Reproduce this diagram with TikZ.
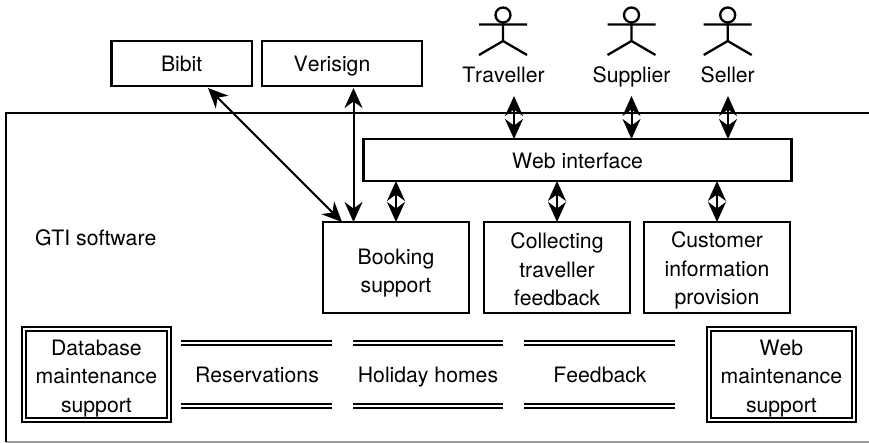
\documentclass[tikz,border=0pt]{standalone}
\usepackage{fontspec}
\setmainfont[Kerning=Off]{TeX Gyre Heros}
\usetikzlibrary{arrows.meta,calc}
\tikzset{
  lbl/.style={font=\fontsize{21.2}{28.5}\selectfont,align=center,inner sep=0pt,outer sep=0pt},
  box/.style={draw,line width=2.3pt,inner sep=0pt,outer sep=0pt},
  dbox/.style={draw,line width=1.9pt,double=white,double distance=2.2pt,minimum width=145.4pt,minimum height=91.3pt,inner sep=0pt,outer sep=0pt},
  rule/.style={line width=1.9pt,double=white,double distance=2.2pt},
  stick/.style={line width=2.3pt},
  link/.style={line width=2pt,{Stealth[length=20pt,width=18pt,inset=6.5pt]}-{Stealth[length=20pt,width=18pt,inset=6.5pt]}},
  actor/.pic={
    \draw[stick] (0,15) circle (7.5);
    \draw[stick] (-24,24.5) -- (24,24.5) (0,22.5) -- (0,41) (-24,55) -- (0,41) -- (24,55);
  }
}
\begin{document}
\begin{tikzpicture}[x=1pt,y=-1pt]
\useasboundingbox (0,0) rectangle (869,442);
% system boundary
\coordinate (bl) at (6,441.5);
\coordinate (tl) at (6,113);
\coordinate (tr) at (869,113);
\coordinate (br) at (869,441.5);
\draw[line width=2pt,black!40] (bl) -- (br);
\draw[line width=2.3pt] (bl) -- (tl) -- (tr);
% external boxes
\node[box,minimum width=140.5pt,minimum height=45pt] (bibit) at (181.7,63.5) {};
\node[box,minimum width=160.5pt,minimum height=45pt] (verisign) at (342,63.5) {};
\node[lbl,anchor=base] (bibitt) at (181.7,71.7) {Bibit};
\node[lbl,anchor=base] (verisignt) at (332,71.7) {Verisign};
% actors
\pic at (503,0) {actor};
\pic at (631.5,0) {actor};
\pic at (727.7,0) {actor};
\node[lbl,anchor=base] (traveller) at (503.5,82) {Traveller};
\node[lbl,anchor=base] (supplier) at (631.5,82) {Supplier};
\node[lbl,anchor=base] (seller) at (727.7,82) {Seller};
% interior boxes
\node[box,minimum width=428pt,minimum height=42pt] (web) at (577.5,160) {};
\node[lbl,anchor=base] (webt) at (577.5,168.3) {Web interface};
\node[lbl,anchor=base west] (gti) at (35,245) {GTI software};
\node[box,minimum width=145.5pt,minimum height=91pt] (booking) at (396,267.5) {};
\node[box,minimum width=145.5pt,minimum height=91pt] (collect) at (557,267.5) {};
\node[box,minimum width=145.5pt,minimum height=91pt] (customer) at (717,267.5) {};
\node[lbl] (bookingt) at (396,273) {Booking\\support};
\node[lbl] (collectt) at (557,269.3) {Collecting\\traveller\\feedback};
\node[lbl] (customert) at (717,270.5) {Customer\\information\\provision};
\node[dbox] (db) at (96.4,374.4) {};
\node[dbox] (wm) at (781.4,374.4) {};
\node[lbl] (dbt) at (96.4,378.5) {Database\\maintenance\\support};
\node[lbl] (wmt) at (781.4,378.5) {Web\\maintenance\\support};
% data stores
\draw[rule] (181,342.6) -- (332,342.6) (181,406) -- (332,406);
\draw[rule] (353,342.6) -- (503,342.6) (353,406) -- (503,406);
\draw[rule] (524,342.6) -- (675,342.6) (524,406) -- (675,406);
\node[lbl,anchor=base] (res) at (257,382.7) {Reservations};
\node[lbl,anchor=base] (hol) at (428,382.7) {Holiday homes};
\node[lbl,anchor=base] (fee) at (600,382.7) {Feedback};
% connectors
\coordinate (t1) at (514,96);
\coordinate (t2) at (631.5,96);
\coordinate (t3) at (728,96);
\coordinate (bibtip) at (208,88);
\coordinate (booktip) at (342,222);
\coordinate (vertip) at (353.5,88);
\draw[link] (bibtip) -- (booktip);
\draw[link] (vertip) -- (vertip |- booking.north);
\draw[link] (t1) -- (t1 |- web.north);
\draw[link] (t2) -- (t2 |- web.north);
\draw[link] (t3) -- (t3 |- web.north);
\draw[link] (booking.north) -- (booking.north |- web.south);
\draw[link] (collect.north) -- (collect.north |- web.south);
\draw[link] (customer.north) -- (customer.north |- web.south);
\end{tikzpicture}
\end{document}
